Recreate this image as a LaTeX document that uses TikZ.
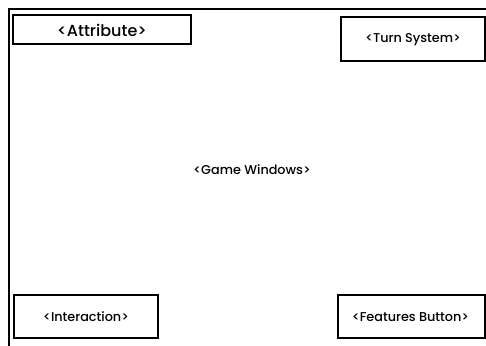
\documentclass[tikz,border=0pt]{standalone}
\usepackage{fontspec}
\setmainfont{Poppins}[UprightFont=* Medium]
\begin{document}
\begin{tikzpicture}[x=1pt,y=-1pt,
  panel/.style={draw=black,line width=2.4pt,fill=white},
  lbl/.style={font=\fontsize{12.8}{14}\selectfont,text=black}]
\useasboundingbox (0,0) rectangle (486,345);
\fill[white] (0,0) rectangle (486,345);
\draw[line width=1.8pt] (9,346) -- (9,9) -- (487,9);
\draw[panel] (13,15) rectangle (191,44);
\node[lbl,font=\fontsize{16}{18}\selectfont] (attr) at (102,30) {<Attribute>};
\draw[panel] (341,17) rectangle (485,61);
\node[lbl] (turn) at (413,39.5) {<Turn System>};
\node[lbl] (game) at (252,170) {<Game Windows>};
\draw[panel] (14,295) rectangle (158,338);
\node[lbl] (inter) at (86,317) {<Interaction>};
\draw[panel] (338,295) rectangle (485,338);
\node[lbl] (feat) at (410.5,317) {<Features Button>};
\end{tikzpicture}
\end{document}
